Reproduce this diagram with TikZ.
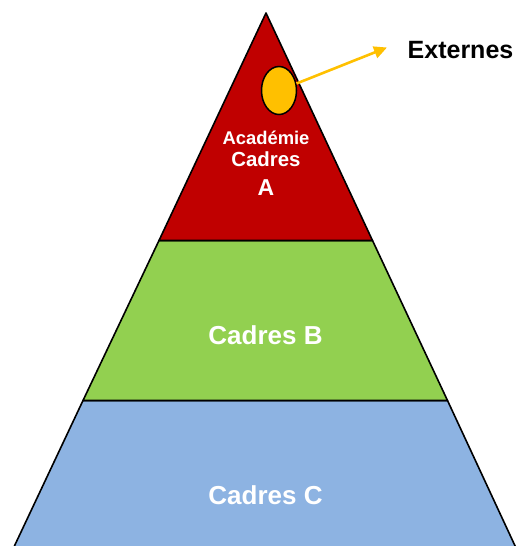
\documentclass[tikz,border=0pt]{standalone}
\usepackage{fontspec}
\setmainfont{Liberation Sans}
\usetikzlibrary{shapes.geometric,arrows.meta}
\definecolor{redband}{HTML}{C00000}
\definecolor{greenband}{HTML}{92D050}
\definecolor{blueband}{HTML}{8DB3E2}
\definecolor{gold}{HTML}{FFC000}
\tikzset{
  band/.style={draw=black, line width=1.6pt, line join=round},
  lbl/.style={text=white, font=\bfseries, anchor=base, inner sep=0pt},
}
\begin{document}
\begin{tikzpicture}[x=1pt,y=-1pt]
\useasboundingbox (0,0) rectangle (520,546);
\begin{scope}
\clip (0,0) rectangle (520,546);
\coordinate (apex) at (266,13);
\coordinate (rl) at (159,240.5);
\coordinate (rr) at (372.5,240.5);
\coordinate (gl) at (83,400.5);
\coordinate (gr) at (447.5,400.5);
\coordinate (bl) at (13,549);
\coordinate (br) at (516.5,549);
\path[band, fill=blueband] (gl) -- (gr) -- (br) -- (bl) -- cycle;
\path[band, fill=greenband] (rl) -- (rr) -- (gr) -- (gl) -- cycle;
\path[band, fill=redband] (apex) -- (rr) -- (rl) -- cycle;
\end{scope}
\node[draw=black, line width=1.5pt, fill=gold, ellipse, minimum width=35pt, minimum height=48pt, inner sep=0pt] (e) at (279,90.5) {};
\coordinate (tip) at (387,47.5);
\draw[gold, line width=2.6pt, -{Triangle[length=13pt,width=12pt]}] (e) -- (tip);
\node[font=\fontsize{25}{28}\selectfont\bfseries, anchor=base west, inner sep=0pt] (ext) at (407.5,58.3) {Externes};
\node[lbl, font=\fontsize{18.4}{20}\selectfont\bfseries] (acad) at (266,144) {Académie};
\node[lbl, font=\fontsize{20.4}{22}\selectfont\bfseries] (cadA) at (266,166.7) {Cadres};
\node[lbl, font=\fontsize{23}{25}\selectfont\bfseries] (lA) at (266,195) {A};
\node[lbl, font=\fontsize{26}{28}\selectfont\bfseries] (cadB) at (265.5,344.3) {Cadres B};
\node[lbl, font=\fontsize{26}{28}\selectfont\bfseries] (cadC) at (265.5,504) {Cadres C};
\end{tikzpicture}
\end{document}
